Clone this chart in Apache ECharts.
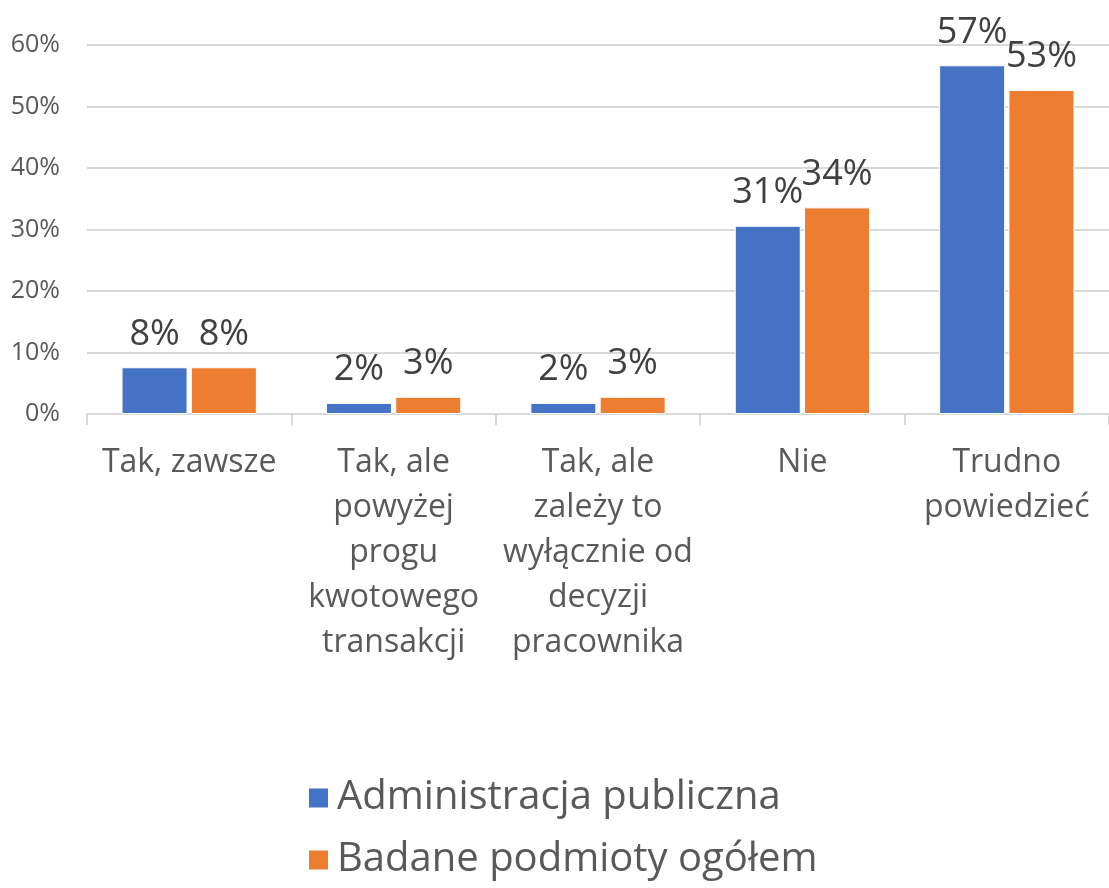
<!DOCTYPE html>
<html>
<head>
<meta charset="utf-8">
<script src="https://cdn.jsdelivr.net/npm/echarts@6/dist/echarts.min.js"></script>
<style>
  html, body { margin: 0; padding: 0; background: #fff; }
  #chart { width: 1109px; height: 888px; }
</style>
</head>
<body>
<div id="chart"></div>
<script>
// dane (w %)
var categories = [
  'Tak, zawsze',
  'Tak, ale\npowyżej\nprogu\nkwotowego\ntransakcji',
  'Tak, ale\nzależy to\nwyłącznie od\ndecyzji\npracownika',
  'Nie',
  'Trudno\npowiedzieć'
];
var seriesNames = ['Administracja publiczna', 'Badane podmioty ogółem'];
var adminValues = [7.6, 1.8, 1.8, 30.6, 56.7];
var totalValues = [7.6, 2.8, 2.8, 33.6, 52.7];
var yTicks = [0, 10, 20, 30, 40, 50, 60];

var font = 'Open Sans';
var chart = echarts.init(document.getElementById('chart'));

function barLabel() {
  return {
    show: true,
    position: 'top',
    distance: 15,
    fontFamily: font,
    fontSize: 36,
    color: '#404040',
    formatter: function (p) { return Math.round(p.value) + '%'; }
  };
}

chart.setOption({
  animation: false,
  textStyle: { fontFamily: font },
  grid: { left: 87, top: 45, width: 1029, height: 369, containLabel: false },
  legend: {
    orient: 'vertical',
    left: 302,
    top: 773,
    itemWidth: 21,
    itemHeight: 21,
    itemGap: 22,
    icon: 'rect',
    textStyle: { fontFamily: font, fontSize: 40, color: '#595959', padding: [0, 0, 0, 3] },
    data: seriesNames
  },
  xAxis: {
    type: 'category',
    data: categories,
    axisLine: { lineStyle: { color: '#d9d9d9', width: 2 } },
    axisTick: { show: true, length: 11, lineStyle: { color: '#d9d9d9', width: 2 } },
    axisLabel: {
      interval: 0,
      margin: 26,
      fontFamily: font,
      fontSize: 32,
      lineHeight: 45,
      color: '#595959',
      align: 'center'
    }
  },
  yAxis: {
    type: 'value',
    min: yTicks[0],
    max: yTicks[yTicks.length - 1],
    interval: 10,
    axisLine: { show: false },
    axisTick: { show: false },
    splitLine: { lineStyle: { color: '#d9d9d9', width: 2 } },
    axisLabel: {
      margin: 27,
      fontFamily: font,
      fontSize: 25,
      color: '#595959',
      formatter: '{value}%'
    }
  },
  series: [
    {
      name: seriesNames[0],
      type: 'bar',
      data: adminValues,
      barWidth: 66,
      barGap: '5%',
      itemStyle: { color: '#4472C4', borderColor: '#fff', borderWidth: 1 },
      label: barLabel()
    },
    {
      name: seriesNames[1],
      type: 'bar',
      data: totalValues,
      barWidth: 66,
      barGap: '5%',
      itemStyle: { color: '#ED7D31', borderColor: '#fff', borderWidth: 1 },
      label: barLabel()
    }
  ]
});
</script>
</body>
</html>
